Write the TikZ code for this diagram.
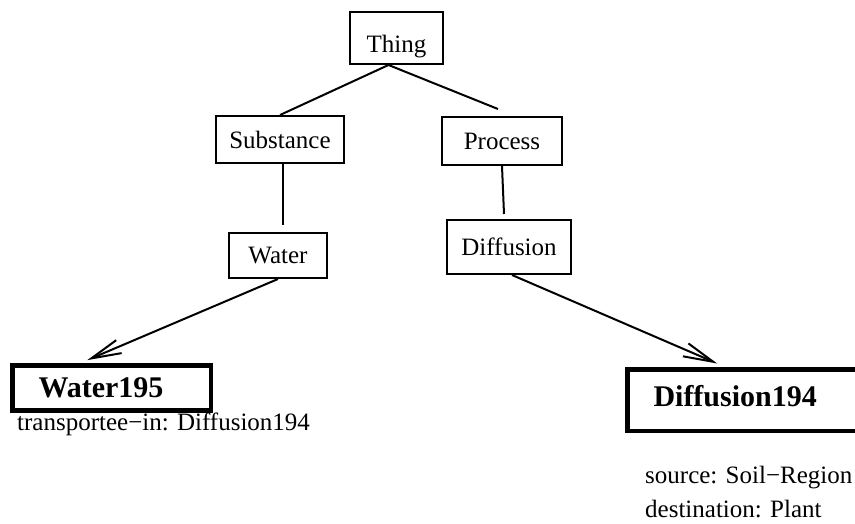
\documentclass[tikz,border=0pt]{standalone}
\usepackage{fontspec}
\setmainfont{Liberation Serif}
\usetikzlibrary{arrows.meta}

\begin{document}
\begin{tikzpicture}[
x=1pt, y=-1pt,
cls/.style={draw, line width=2pt, align=center, inner sep=0pt, text depth=0pt, font=\fontsize{25}{30}\selectfont},
inst/.style={draw, line width=4.5pt, anchor=west, inner xsep=26pt, inner ysep=0pt, align=left, font=\fontsize{30}{36}\selectfont\bfseries},
attr/.style={anchor=base west, inner sep=0pt, font=\fontsize{25}{30}\selectfont},
link/.style={line width=2pt},
arr/.style={line width=2pt, -{Straight Barb[length=30pt, width=14pt]}}
]
\useasboundingbox (0,0) rectangle (855,523);
\node[cls, minimum width=93pt, minimum height=52pt, text height=29pt] (thing) at (396.5,38) {Thing};
\node[cls, minimum width=128pt, minimum height=47pt] (substance) at (280,139.5) {Substance};
\node[cls, minimum width=120pt, minimum height=48pt] (process) at (502,141) {Process};
\node[cls, minimum width=98pt, minimum height=45pt] (water) at (278,255.5) {Water};
\node[cls, minimum width=124pt, minimum height=54pt] (diffusion) at (509,247) {Diffusion};
\node[inst, text width=146.5pt, minimum height=45.25pt] (water195) at (10.25,388) {Water195};
\node[inst, text width=250pt, minimum height=61.5pt, text depth=9pt] (diffusion194) at (625.25,400) {Diffusion194};
\node[attr] (transportee) at (17,430) {transportee−in: Diffusion194};
\node[attr] (source) at (645,483) {source: Soil−Region};
\node[attr] (destination) at (645,517) {destination: Plant};

\draw[link] ([shift={(-8,0)}]thing.south) -- (substance.north);
\draw[link] ([shift={(-8,0)}]thing.south) -- ([shift={(-4,-7)}]process.north);
\draw[link] ([shift={(3,0)}]substance.south) -- ([shift={(5,-7)}]water.north);
\draw[link] (process.south) -- ([shift={(-5,-5)}]diffusion.north);
\draw[arr] (water.south) -- ([shift={(-24.5,-3)}]water195.north);
\draw[arr] ([shift={(3,0)}]diffusion.south) -- ([shift={(92,-3.5)}]diffusion194.north west);
\end{tikzpicture}
\end{document}
